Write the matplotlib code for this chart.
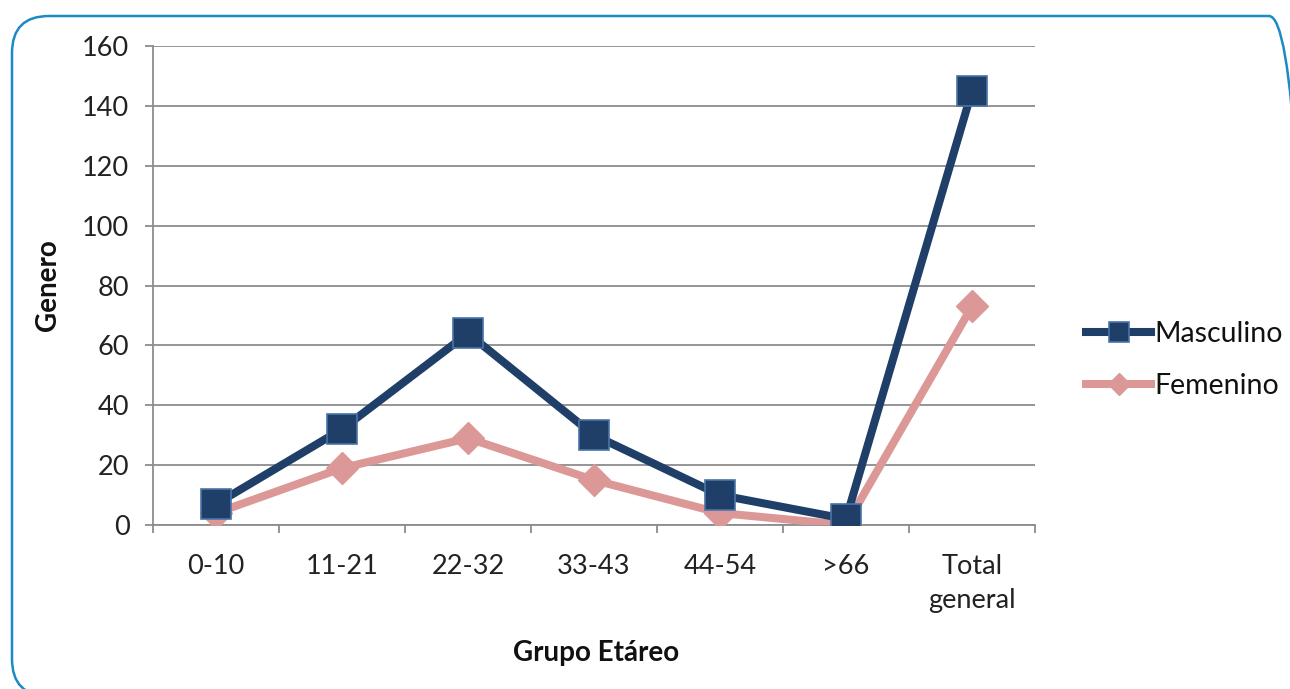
import matplotlib
matplotlib.use("Agg")
import matplotlib.pyplot as plt
from matplotlib.patches import FancyBboxPatch

categories = ["0-10", "11-21", "22-32", "33-43", "44-54", ">66", "Total\ngeneral"]
masculino = [7, 32, 64, 30, 10, 2, 145]
femenino = [4, 19, 29, 15, 4, 0, 73]
yticks = [0, 20, 40, 60, 80, 100, 120, 140, 160]

plt.rcParams['font.family'] = ['Lato', 'DejaVu Sans']

fig = plt.figure(figsize=(12.9, 6.89), dpi=100)
W, H = 1290, 689
ax = fig.add_axes([153 / W, 1 - 525 / H, (1035 - 153) / W, (525 - 46) / H])

x = list(range(len(categories)))
navy = "#1F3F68"
pink = "#DC9896"
ax.plot(x, femenino, color=pink, lw=5.8, marker="D", markersize=16,
        markerfacecolor=pink, markeredgecolor=pink, label="Femenino", zorder=3)
ax.plot(x, masculino, color=navy, lw=5.8, marker="s", markersize=21,
        markerfacecolor=navy, markeredgecolor="#4A74A8", markeredgewidth=1.2,
        label="Masculino", zorder=4)

ax.set_xlim(-0.5, len(categories) - 0.5)
ax.set_ylim(0, 160)
ax.set_yticks(yticks)
ax.yaxis.grid(True, color="#8C8C8C", lw=1.3)
ax.set_axisbelow(True)
for s in ["top", "right"]:
    ax.spines[s].set_visible(False)
for s in ["left", "bottom"]:
    ax.spines[s].set_color("#8C8C8C")
    ax.spines[s].set_linewidth(1.3)

ax.set_xticks([i - 0.5 for i in range(len(categories) + 1)])
ax.set_xticklabels([])
ax.set_xticks(x, minor=True)
ax.set_xticklabels(categories, minor=True, fontsize=19.5, color="#222222",
                   linespacing=1.45)
ax.tick_params(axis="x", which="major", length=6, color="#8C8C8C", width=1.3)
ax.tick_params(axis="x", which="minor", length=0, pad=21)
ax.tick_params(axis="y", length=6, color="#8C8C8C", width=1.3,
               labelsize=19.5, labelcolor="#222222", pad=11)

fig.text(48 / W, 1 - 285 / H, "Genero", rotation=90, fontsize=20,
         fontweight="bold", ha="center", va="center", color="#111111")
fig.text(596 / W, 1 - 653 / H, "Grupo Etáreo", fontsize=20,
         fontweight="bold", ha="center", va="center", color="#111111")

handles, labels = ax.get_legend_handles_labels()
leg = fig.legend(handles[::-1], labels[::-1], loc="center left",
                 bbox_to_anchor=(1066 / W, 1 - 360 / H), frameon=False,
                 fontsize=20.5, handlelength=2.3, handletextpad=0.1,
                 labelspacing=0.9, markerscale=0.68, borderpad=0.2)
for t in leg.get_texts():
    t.set_color("#111111")

x0, y0, x1, y1 = 12, 16, 1306, 696
r = 37
border = FancyBboxPatch((x0 / W, 1 - y1 / H), (x1 - x0) / W, (y1 - y0) / H,
                        boxstyle="round,pad=0,rounding_size=%f" % (r / W),
                        mutation_aspect=W / H,
                        transform=fig.transFigure, fill=False,
                        edgecolor="#1A8BC4", lw=1.8, clip_on=False)
fig.patches.append(border)

fig.savefig("out.png", dpi=100)
